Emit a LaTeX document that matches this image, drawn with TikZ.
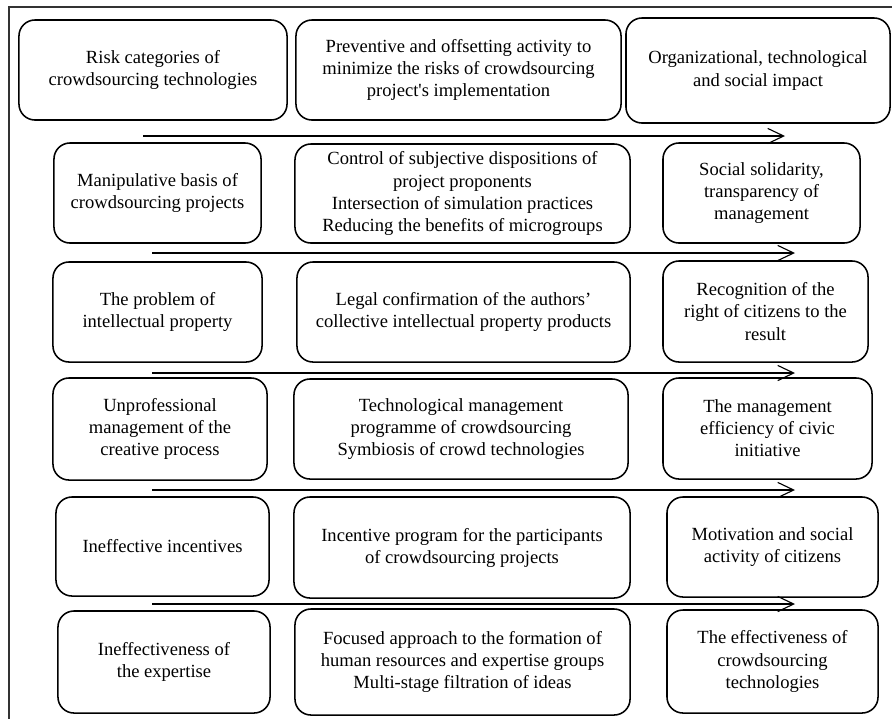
\documentclass[tikz,border=0pt]{standalone}
\usepackage{fontspec}
\setmainfont{Liberation Serif}
\usepackage{tikz}
\usetikzlibrary{arrows.meta, positioning}

\begin{document}
\begin{tikzpicture}[x=0.025cm, y=-0.025cm, >={Straight Barb[length=4mm, width=3.8mm]}]
    \tikzstyle{riskbox} = [draw, line width=1.1pt, rectangle, rounded corners=0.4cm, inner sep=0pt, outer sep=0pt, align=center, font=\fontsize{13.2}{15.7}\selectfont]
    \tikzstyle{flow} = [->, line width=0.8pt]

    \useasboundingbox (0,0) rectangle (892,719);
    \draw[line width=0.8pt, black!80] (892,7) -- (9,7) -- (9,719);

    % row 1
    \node [riskbox, minimum width=6.7cm, minimum height=2.5cm] (risk) at (153,70) {Risk categories of\\crowdsourcing technologies};
    \node [riskbox, minimum width=8.125cm, minimum height=2.5cm] (prevent) at (458.5,70) {Preventive and offsetting activity to\\minimize the risks of crowdsourcing\\project\textquotesingle s implementation};
    \node [riskbox, minimum width=6.6cm, minimum height=2.625cm] (impact) at (758,70.5) {Organizational, technological\\and social impact};

    % row 2
    \node [riskbox, minimum width=5.175cm, minimum height=2.5cm] (manip) at (157.5,193) {Manipulative basis of\\crowdsourcing projects};
    \node [riskbox, minimum width=8.375cm, minimum height=2.475cm] (control) at (462.5,193.5) {Control of subjective dispositions of\\project proponents\\Intersection of simulation practices\\Reducing the benefits of microgroups};
    \node [riskbox, minimum width=4.925cm, minimum height=2.5cm] (solid) at (761.5,193) {Social solidarity,\\transparency of\\management};

    % row 3
    \node [riskbox, minimum width=5.225cm, minimum height=2.5cm] (intel) at (157.5,312) {The problem of\\intellectual property};
    \node [riskbox, minimum width=8.325cm, minimum height=2.5cm] (legal) at (463.5,312) {Legal confirmation of the authors’\\collective intellectual property products};
    \node [riskbox, minimum width=5.125cm, minimum height=2.525cm] (right) at (765.5,311.5) {Recognition of the\\right of citizens to the\\result};

    % row 4
    \node [riskbox, minimum width=5.35cm, minimum height=2.55cm] (unprof) at (160,429) {Unprofessional\\management of the\\creative process};
    \node [riskbox, minimum width=8.35cm, minimum height=2.5cm] (techman) at (461,429) {Technological management\\programme of crowdsourcing\\Symbiosis of crowd technologies};
    \node [riskbox, minimum width=5.225cm, minimum height=2.525cm] (civic) at (767.5,428.5) {The management\\efficiency of civic\\initiative};

    % row 5
    \node [riskbox, minimum width=5.325cm, minimum height=2.475cm] (incent) at (162.5,546.5) {Ineffective incentives};
    \node [riskbox, minimum width=8.4cm, minimum height=2.525cm] (program) at (462,547.5) {Incentive program for the participants\\of crowdsourcing projects};
    \node [riskbox, minimum width=5.275cm, minimum height=2.5cm] (motiv) at (772.5,547) {Motivation and social\\activity of citizens};

    % row 6
    \node [riskbox, minimum width=5.3cm, minimum height=2.55cm] (expert) at (164,662) {Ineffectiveness of\\the expertise};
    \node [riskbox, minimum width=8.375cm, minimum height=2.65cm] (focus) at (462.5,662) {Focused approach to the formation of\\human resources and expertise groups\\Multi-stage filtration of ideas};
    \node [riskbox, minimum width=5.275cm, minimum height=2.575cm] (effect) at (772.5,661.5) {The effectiveness of\\crowdsourcing\\technologies};

    % arrows between rows
    \coordinate (s1) at (143,136);  \coordinate (e1) at (785,136);
    \coordinate (s2) at (152,253);  \coordinate (e2) at (795,253);
    \coordinate (s3) at (152,373);  \coordinate (e3) at (795,373);
    \coordinate (s4) at (152,490);  \coordinate (e4) at (795,490);
    \coordinate (s5) at (152,604);  \coordinate (e5) at (795,604);

    \draw[flow] (s1) -- (e1);
    \draw[flow] (s2) -- (e2);
    \draw[flow] (s3) -- (e3);
    \draw[flow] (s4) -- (e4);
    \draw[flow] (s5) -- (e5);
\end{tikzpicture}
\end{document}
